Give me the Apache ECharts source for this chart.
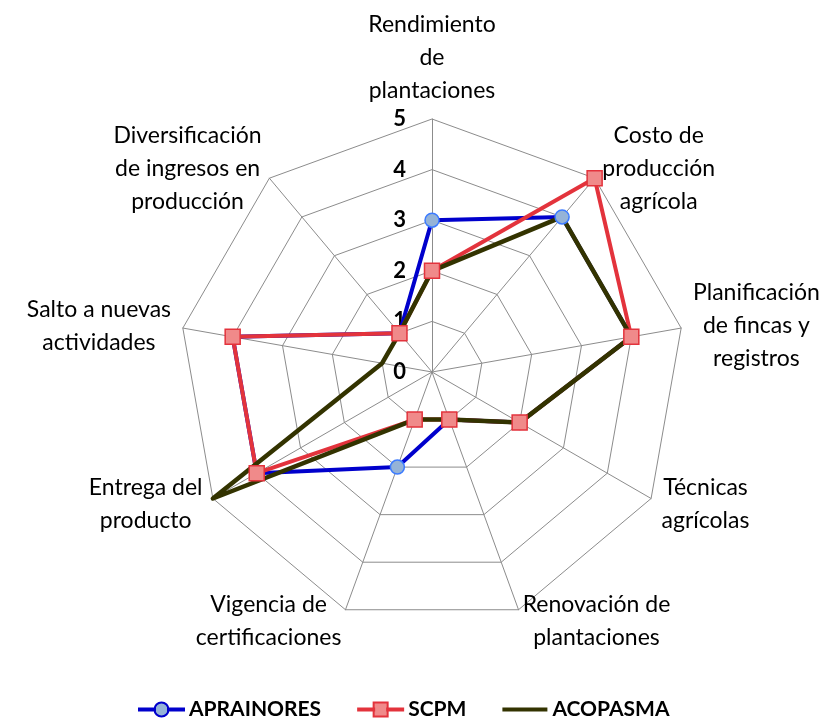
<!DOCTYPE html>
<html>
<head>
<meta charset="utf-8">
<script src="https://cdn.jsdelivr.net/npm/echarts@6/dist/echarts.min.js"></script>
<style>
  html, body { margin: 0; padding: 0; background: #fff; }
  #main { width: 831px; height: 721px; }
</style>
</head>
<body>
<div id="main"></div>
<script>
// indicators, clockwise from the top
var indicadores = [
    'Rendimiento\nde\nplantaciones',
    'Costo de\nproducción\nagrícola',
    'Planificación\nde fincas y\nregistros',
    'Técnicas\nagrícolas',
    'Renovación de\nplantaciones',
    'Vigencia de\ncertificaciones',
    'Entrega del\nproducto',
    'Salto a nuevas\nactividades',
    'Diversificación\nde ingresos en\nproducción'
];
var maxValor = 5;

// values per organisation, same order as indicadores
var aprainores = [3, 4, 4, 2, 1, 2, 4, 4, 1];
var scpm       = [2, 5, 4, 2, 1, 1, 4, 4, 1];
var acopasma   = [2, 4, 4, 2, 1, 1, 5, 1, 1];

var FONT = 'Lato';

// echarts puts radar indicators counter-clockwise, so keep the first and reverse the rest
function ccw(arr) {
    return [arr[0]].concat(arr.slice(1).reverse());
}

var myChart = echarts.init(document.getElementById('main'));

var indicator = ccw(indicadores).map(function (n, i) {
    var ind = { name: n, min: 0, max: maxValor };
    if (i === 0) {
        ind.axisLabel = { show: true };
    }
    return ind;
});

var option = {
    backgroundColor: '#fff',
    animation: false,
    legend: {
        top: 694,
        left: 133,
        itemWidth: 45,
        itemHeight: 14,
        itemGap: 36,
        symbolKeepAspect: true,
        textStyle: { color: '#000', fontSize: 21, fontWeight: 'bold', fontFamily: FONT },
        data: [{
            name: 'APRAINORES',
            icon: 'path://M0,6H16V8H0Z M29,6H45V8H29Z M15.5,7A7,7 0 1,1 29.5,7A7,7 0 1,1 15.5,7Z',
            itemStyle: { color: '#95b3d7', borderColor: '#0000cc', borderWidth: 2 }
        }, {
            name: 'SCPM',
            icon: 'path://M0,6H16V8H0Z M29,6H45V8H29Z M15.5,0H29.5V14H15.5Z',
            itemStyle: { color: '#f08a8a', borderColor: '#e3333c', borderWidth: 2 }
        }, {
            name: 'ACOPASMA',
            icon: 'path://M0,5H45V9H0Z',
            itemStyle: { color: '#333300', borderWidth: 0 }
        }]
    },
    radar: {
        center: [432, 372],
        radius: 253,
        startAngle: 90,
        shape: 'polygon',
        splitNumber: 5,
        nameGap: 12,
        indicator: indicator,
        axisName: {
            color: '#000',
            fontSize: 23,
            fontFamily: FONT,
            formatter: function (name) {
                return name.split('\n').map(function (s) { return '{c|' + s + '}'; }).join('\n');
            },
            rich: {
                c: { align: 'center', fontSize: 23, lineHeight: 33, fontFamily: FONT, color: '#000' }
            }
        },
        axisLine: { lineStyle: { color: '#8c8c8c', width: 1 } },
        splitLine: { lineStyle: { color: '#8c8c8c', width: 1 } },
        splitArea: { show: false },
        axisTick: { show: false },
        axisLabel: {
            show: false,
            color: '#000',
            fontSize: 22,
            fontWeight: 'bold',
            fontFamily: FONT,
            margin: 26
        }
    },
    series: [{
        type: 'radar',
        data: [{
            name: 'APRAINORES',
            value: ccw(aprainores),
            symbol: 'circle',
            symbolSize: 14,
            lineStyle: { color: '#0000cc', width: 4 },
            itemStyle: { color: '#95b3d7', borderColor: '#3c7bff', borderWidth: 1.5 }
        }, {
            name: 'SCPM',
            value: ccw(scpm),
            symbol: 'rect',
            symbolSize: 15,
            lineStyle: { color: '#e3333c', width: 4 },
            itemStyle: { color: '#f08a8a', borderColor: '#e3333c', borderWidth: 1.5 }
        }, {
            name: 'ACOPASMA',
            value: ccw(acopasma),
            symbol: 'none',
            lineStyle: { color: '#333300', width: 4.5 },
            itemStyle: { color: '#333300' }
        }]
    }]
};

myChart.setOption(option);
</script>
</body>
</html>
